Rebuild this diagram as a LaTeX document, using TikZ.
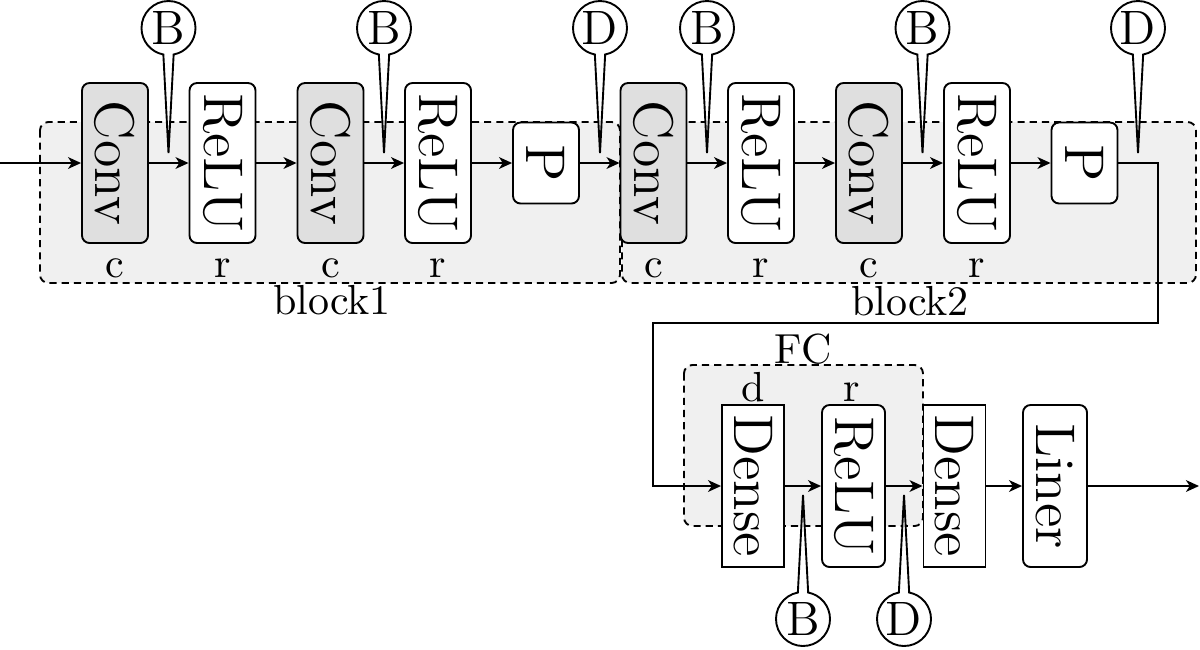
\documentclass[tikz,border=0pt]{standalone}
\usepackage{graphicx}
\usetikzlibrary{arrows.meta,shapes.callouts}
\begin{document}
\begin{tikzpicture}[x=0.238pt,y=-0.238pt,
  layer/.style={draw, line width=0.45pt, minimum width=66*0.238pt, minimum height=160*0.238pt, inner sep=0pt, font=\fontsize{13.3}{16}\selectfont},
  convbox/.style={layer, rounded corners=1.8pt, fill=gray!25},
  relubox/.style={layer, rounded corners=1.8pt, fill=white},
  poolbox/.style={layer, rounded corners=1.8pt, fill=white, minimum height=81*0.238pt},
  densebox/.style={layer, fill=white, minimum width=62*0.238pt, minimum height=162*0.238pt},
  linerbox/.style={layer, rounded corners=1.8pt, fill=white, minimum width=64*0.238pt, minimum height=162*0.238pt},
  lbl/.style={font=\fontsize{10}{12}\selectfont, anchor=base, inner sep=0pt},
  call/.style={ellipse callout, draw, line width=0.45pt, fill=white, minimum width=54*0.238pt, minimum height=54*0.238pt, inner sep=0pt, callout pointer arc=22, font=\fontsize{11.5}{13}\selectfont},
  bgbox/.style={draw, line width=0.45pt, fill=gray!12, dash pattern=on 1.7pt off 1.2pt, rounded corners=2pt},
  arr/.style={line width=0.45pt, -{Stealth[length=3.1pt,width=2.8pt,inset=0.9pt]}},
  ln/.style={line width=0.45pt}
]
\useasboundingbox (0,0) rectangle (1200,649);

% background groups
\path[bgbox] (40,122) rectangle (620,283);
\path[bgbox] (622,122) rectangle (1196,283);
\path[bgbox] (684,365) rectangle (923,526);

% group labels
\node[lbl] (lb1) at (332,314) {block1};
\node[lbl] (lb2) at (910,315) {block2};
\node[lbl] (lfc) at (803,363) {FC};

% top row
\node[convbox] (conv1) at (115,163) {\rotatebox{-90}{Conv}};
\node[relubox] (relu1) at (222.5,163) {\rotatebox{-90}{ReLU}};
\node[convbox] (conv2) at (330.5,163) {\rotatebox{-90}{Conv}};
\node[relubox] (relu2) at (438,163) {\rotatebox{-90}{ReLU}};
\node[poolbox] (p1) at (546,163) {\rotatebox{-90}{P}};
\node[convbox] (conv3) at (653.5,163) {\rotatebox{-90}{Conv}};
\node[relubox] (relu3) at (761,163) {\rotatebox{-90}{ReLU}};
\node[convbox] (conv4) at (869,163) {\rotatebox{-90}{Conv}};
\node[relubox] (relu4) at (977,163) {\rotatebox{-90}{ReLU}};
\node[poolbox] (p2) at (1084.5,163) {\rotatebox{-90}{P}};

% bottom row
\node[densebox] (dense1) at (753,486) {\rotatebox{-90}{Dense}};
\node[relubox, minimum width=63*0.238pt, minimum height=162*0.238pt] (relu5) at (853.5,486) {\rotatebox{-90}{ReLU}};
\node[densebox] (dense2) at (954.5,486) {\rotatebox{-90}{Dense}};
\node[linerbox] (liner) at (1055,486) {\rotatebox{-90}{Liner}};

% letters under/over layers
\node[lbl] (c1) at (115,277) {c};
\node[lbl] (r1) at (222.5,277) {r};
\node[lbl] (c2) at (330.5,277) {c};
\node[lbl] (r2) at (438,277) {r};
\node[lbl] (c3) at (653.5,277) {c};
\node[lbl] (r3) at (761,277) {r};
\node[lbl] (c4) at (869,277) {c};
\node[lbl] (r4) at (977,277) {r};
\node[lbl] (d5) at (753,401) {d};
\node[lbl] (r5) at (852,401) {r};

% connectors
\coordinate (in) at (0,163);
\coordinate (out) at (1199,486);
\coordinate (t1) at (1158,163);
\coordinate (t2) at (1158,323);
\coordinate (t3) at (653,323);
\coordinate (t4) at (653,486);
\draw[arr] (in) -- (conv1);
\draw[arr] (conv1) -- (relu1);
\draw[arr] (relu1) -- (conv2);
\draw[arr] (conv2) -- (relu2);
\draw[arr] (relu2) -- (p1);
\draw[arr] (p1) -- (conv3);
\draw[arr] (conv3) -- (relu3);
\draw[arr] (relu3) -- (conv4);
\draw[arr] (conv4) -- (relu4);
\draw[arr] (relu4) -- (p2);
\draw[arr] (p2.east) -- (t1) -- (t2) -- (t3) -- (t4) -- (dense1.west);
\draw[arr] (dense1) -- (relu5);
\draw[arr] (relu5) -- (dense2);
\draw[arr] (dense2) -- (liner);
\draw[arr] (liner) -- (out);

% callouts
\node[call, callout absolute pointer={(168.5,153)}] (cb1) at (168.5,28) {B};
\node[call, callout absolute pointer={(384,153)}] (cb2) at (384,28) {B};
\node[call, callout absolute pointer={(600,153)}] (cd1) at (600,28) {D};
\node[call, callout absolute pointer={(707,153)}] (cb3) at (707,28) {B};
\node[call, callout absolute pointer={(922.5,153)}] (cb4) at (922.5,28) {B};
\node[call, callout absolute pointer={(1138,153)}] (cd2) at (1138,28) {D};
\node[call, callout absolute pointer={(803,495)}] (cb5) at (803,619) {B};
\node[call, callout absolute pointer={(904,495)}] (cd3) at (904,619) {D};
\end{tikzpicture}
\end{document}
